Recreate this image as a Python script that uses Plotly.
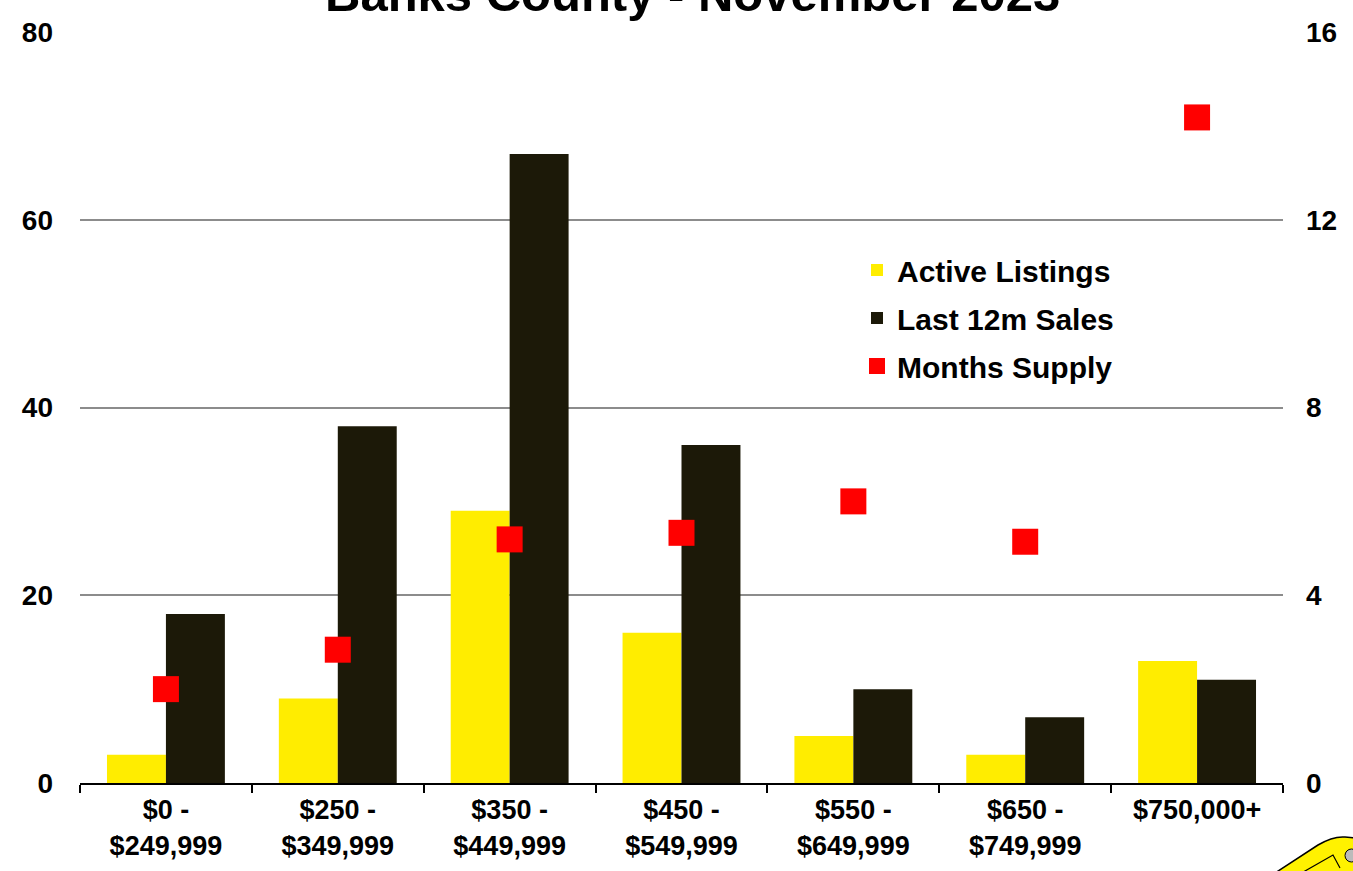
import plotly.graph_objects as go

categories = ["$0 -<br>$249,999", "$250 -<br>$349,999", "$350 -<br>$449,999",
              "$450 -<br>$549,999", "$550 -<br>$649,999", "$650 -<br>$749,999",
              "$750,000+"]
active_listings = [3, 9, 29, 16, 5, 3, 13]
last_12m_sales = [18, 38, 67, 36, 10, 7, 11]
months_supply = [2.0, 2.84, 5.19, 5.33, 6.0, 5.14, 14.18]

W, H = 1353, 871
L, R, T, B = 80, 70, 32, 88
PW, PH = W - L - R, H - T - B

def px(x):
    return (x - L) / PW

def py(y):
    return (H - B - y) / PH

FONT = "Liberation Sans, Arial, Helvetica, sans-serif"

fig = go.Figure()
fig.add_trace(go.Bar(x=categories, y=active_listings, name="Active Listings",
                     marker=dict(color="#FFED00", line=dict(width=0)),
                     legendgroup="a"))
fig.add_trace(go.Bar(x=categories, y=last_12m_sales, name="Last 12m Sales",
                     marker=dict(color="#1C1908", line=dict(width=0)),
                     legendgroup="b"))
fig.add_trace(go.Scatter(x=categories, y=months_supply, name="Months Supply",
                         mode="markers", yaxis="y2",
                         marker=dict(symbol="square", size=26, color="#FF0000"),
                         legendgroup="c"))

fig.update_layout(
    width=W, height=H,
    margin=dict(l=L, r=R, t=T, b=B, autoexpand=False),
    plot_bgcolor="white", paper_bgcolor="white",
    barmode="group", bargap=0.314, bargroupgap=0,
    font=dict(family=FONT, color="black", size=27, weight="bold"),
    xaxis=dict(type="category", showgrid=False, showline=True, linecolor="black",
               linewidth=2, ticks="outside", tickson="boundaries", ticklen=8,
               tickwidth=2, tickcolor="black", ticklabelstandoff=2,
               tickfont=dict(family=FONT, size=27, weight="bold", color="black")),
    yaxis=dict(range=[0, 80], dtick=20, showgrid=True, gridcolor="#8C8C8C",
               gridwidth=2, zeroline=False, showline=False, ticks="",
               ticklabelstandoff=26,
               tickfont=dict(family=FONT, size=28, weight="bold", color="black")),
    yaxis2=dict(range=[0, 16], dtick=4, overlaying="y", side="right",
                showgrid=False, zeroline=False, showline=False, ticks="",
                ticklabelstandoff=22,
                tickfont=dict(family=FONT, size=28, weight="bold", color="black")),
    legend=dict(x=px(857), y=py(244), xanchor="left", yanchor="top",
                bgcolor="rgba(0,0,0,0)", traceorder="grouped", tracegroupgap=6,
                font=dict(family=FONT, size=30, weight="bold", color="black"),
                itemwidth=30),
    showlegend=True,
)

fig.add_annotation(text="Banks County - November 2023", xref="paper", yref="paper",
                   x=px(692), y=py(23), xanchor="center", yanchor="bottom",
                   showarrow=False,
                   font=dict(family=FONT, size=49, weight="bold", color="black"))

# logo fragment at bottom-right corner
path = (f"M {px(1272)} {py(875)} L {px(1318)} {py(845)} Q {px(1333)} {py(836)} {px(1345)} {py(837)} "
        f"L {px(1356)} {py(838)} L {px(1356)} {py(875)} Z")
fig.add_shape(type="path", path=path, xref="paper", yref="paper",
              fillcolor="#FFF200", line=dict(color="black", width=1.5), layer="above")
inner = f"M {px(1298)} {py(875)} L {px(1333)} {py(855)} L {px(1340)} {py(868)}"
fig.add_shape(type="path", path=inner, xref="paper", yref="paper",
              line=dict(color="black", width=1.2), layer="above")
fig.add_shape(type="circle", xref="paper", yref="paper",
              x0=px(1345), x1=px(1358), y0=py(862), y1=py(849),
              fillcolor="#BBBBBB", line=dict(color="black", width=1), layer="above")

fig.write_html("out.html", config={"displayModeBar": False},
               post_script="document.body.style.margin='0';document.body.style.overflow='hidden';")
